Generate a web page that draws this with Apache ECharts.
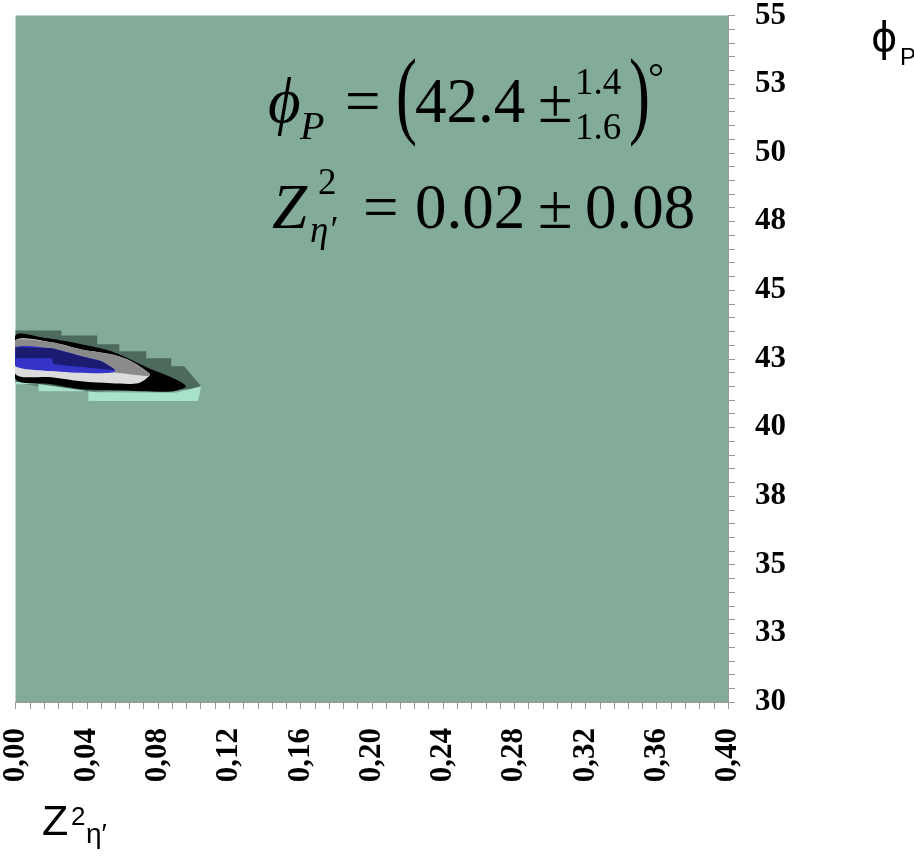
<!DOCTYPE html>
<html>
<head>
<meta charset="utf-8">
<script src="https://cdn.jsdelivr.net/npm/echarts@6/dist/echarts.min.js"></script>
<style>
html,body{margin:0;padding:0;background:#fff;}
#chart{width:914px;height:857px;}
</style>
</head>
<body>
<div id="chart"></div>
<script>
// ---- tick labels ----
var xTickLabels = ['0,00','0,04','0,08','0,12','0,16','0,20','0,24','0,28','0,32','0,36','0,40'];
var yTickLabels = ['30','33','35','38','40','43','45','48','50','53','55'];

// ---- contour band boundaries: [Z^2, phi_P] ----
var darkBand = [[0,43.53],[0.0258,43.53],[0.0258,43.35],[0.0459,43.35],[0.0459,43.03],[0.0583,43.03],[0.0583,42.77],[0.0734,42.77],[0.0734,42.52],[0.0874,42.52],[0.0874,42.23],[0.0947,42.23],[0.1042,41.50],[0.0986,41.39],[0.0409,41.30],[0,41.61]];
var mintBand = [[0,41.66],[0.0129,41.58],[0.045,41.28],[0.09,41.26],[0.1042,41.50],[0.1025,40.96],[0.0409,40.96],[0.0409,41.32],[0.0129,41.32],[0.0129,41.57],[0,41.57]];
var blackBand = [[0,43.35],[0.0146,43.28],[0.037,43.03],[0.0538,42.77],[0.0689,42.34],[0.0762,42.12],[0.0874,41.83],[0.0958,41.50],[0.0891,41.32],[0.0706,41.32],[0.0538,41.36],[0.037,41.39],[0.0202,41.57],[0,41.76]];
var lightBand = [[0,43.17],[0.0202,43.10],[0.037,42.84],[0.0538,42.66],[0.065,42.41],[0.0751,41.97],[0.0751,41.87],[0.0689,41.61],[0.0538,41.61],[0.037,41.68],[0.0202,41.83],[0,41.94]];
var grayBand = [[0,43.17],[0.0202,43.10],[0.037,42.84],[0.0538,42.66],[0.065,42.41],[0.0751,41.97],[0.0751,41.87],[0.0594,41.97],[0.0555,42.01],[0.037,42.19],[0,42.41]];
var blueBand = [[0,42.92],[0.0202,42.88],[0.037,42.59],[0.0482,42.41],[0.0555,42.12],[0.0555,42.01],[0.0426,41.97],[0.0202,42.05],[0,42.23]];
var navyBand = [[0,42.92],[0.0202,42.88],[0.037,42.59],[0.0482,42.41],[0.0555,42.12],[0.0555,42.08],[0.0213,42.30],[0.0202,42.52],[0,42.52]];

var bands = [darkBand, mintBand, blackBand, lightBand, grayBand, blueBand, navyBand];
var bandColors = ['#4c6b5c','#a8e2cb','#000000','#dcdcdc','#8a8a8a','#3434c8','#1b1b72'];
var bandSmooth = [0, 0, 0.3, 0.3, 0.25, 0.25, 0];

var chart = echarts.init(document.getElementById('chart'), null, {renderer:'canvas'});

var series = bands.map(function (pts, i) {
  return {
    type: 'custom',
    coordinateSystem: 'cartesian2d',
    clip: true,
    silent: true,
    data: pts,
    encode: {x: 0, y: 1},
    renderItem: function (params, api) {
      if (params.dataIndex !== 0) return null;
      var p = pts.map(function (d) { return api.coord(d); });
      return {
        type: 'polygon',
        shape: {points: p, smooth: bandSmooth[i]},
        style: {fill: bandColors[i], stroke: null}
      };
    }
  };
});

function T(text, x, baseline, size, opts) {
  opts = opts || {};
  var family = opts.family || '"Liberation Serif", serif';
  var font = (opts.style || 'normal') + ' ' + (opts.weight || 'normal') + ' ' + size + 'px ' + family;
  var el = {
    type: 'text',
    x: x,
    y: baseline - 0.34 * size,
    z: 100,
    silent: true,
    style: {text: text, font: font, fill: '#000', align: 'left', verticalAlign: 'middle'}
  };
  if (opts.scaleY) { el.scaleY = opts.scaleY; el.y = opts.cy; }
  return el;
}
var SANS = '"Liberation Sans", Arial, sans-serif';

var graphics = [
  // line 1 : phi_P = (42.4 +1.4 -1.6)°
  T('\u03D5', 268, 127, 63, {style:'italic'}),
  T('P', 300, 142, 40, {style:'italic'}),
  T('=', 345, 127, 63),
  T('(', 396, 0, 63, {scaleY:1.55, cy:100}),
  T('42.4', 415, 127, 63),
  T('\u00B1', 538, 127, 63),
  T('1.4', 575, 97, 37),
  T('1.6', 575, 142, 37),
  T(')', 629, 0, 63, {scaleY:1.55, cy:100}),
  T('\u00B0', 648, 94, 40),
  // line 2 : Z^2_eta' = 0.02 ± 0.08
  T('Z', 272, 233, 63, {style:'italic'}),
  T('2', 318, 197, 37),
  T('\u03B7\u2032', 310, 245, 37, {style:'italic'}),
  T('=', 363, 233, 63),
  T('0.02', 415, 233, 63),
  T('\u00B1', 538, 233, 63),
  T('0.08', 585, 233, 63),
  // axis names
  T('\u03D5', 871, 54, 40, {family: '"DejaVu Sans", sans-serif'}),
  T('P', 900, 67, 24, {family: SANS}),
  T('Z', 42, 838, 43, {family: SANS}),
  T('2', 71, 827, 26, {family: SANS}),
  T('\u03B7\u2032', 86, 845, 28, {family: SANS})
];

var labelFont = {color:'#000', fontFamily:'"Liberation Serif", "Times New Roman", serif', fontWeight:'bold', fontSize:31};

chart.setOption({
  animation: false,
  backgroundColor: '#ffffff',
  grid: {left:14, right:186, top:13, bottom:155, show:true, backgroundColor:'#83ab99', borderWidth:0, containLabel:false},
  xAxis: {
    type:'value', min:0, max:0.4, interval:0.04,
    axisLine:{show:true, onZero:false, lineStyle:{color:'#9a9a9a', width:1}},
    axisTick:{show:true, length:7, lineStyle:{color:'#9a9a9a'}},
    minorTick:{show:true, splitNumber:5, length:7, lineStyle:{color:'#9a9a9a'}},
    splitLine:{show:false},
    axisLabel: Object.assign({rotate:90, margin:26, formatter:function(v){ return xTickLabels[Math.round(v/0.04)]; }}, labelFont)
  },
  yAxis: {
    type:'value', position:'right', min:30, max:55, interval:2.5,
    axisLine:{show:true, onZero:false, lineStyle:{color:'#9a9a9a', width:1}},
    axisTick:{show:true, length:7, lineStyle:{color:'#9a9a9a'}},
    minorTick:{show:true, splitNumber:5, length:7, lineStyle:{color:'#9a9a9a'}},
    splitLine:{show:false},
    axisLabel: Object.assign({margin:27, formatter:function(v){ return yTickLabels[Math.round((v-30)/2.5)]; }}, labelFont)
  },
  series: series,
  graphic: graphics
});
</script>
</body>
</html>
